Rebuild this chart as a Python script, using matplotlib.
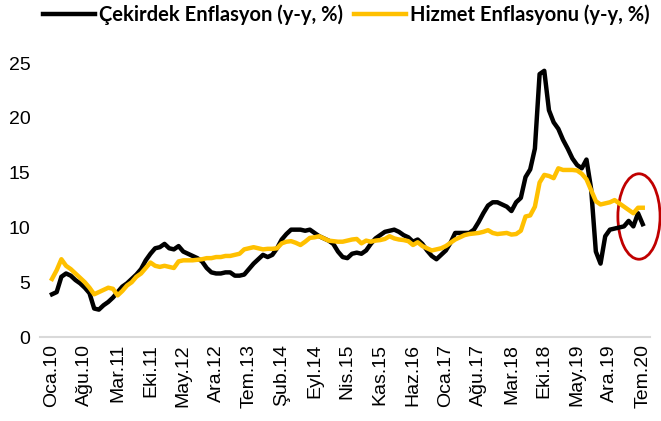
import matplotlib
matplotlib.use("Agg")
import matplotlib.pyplot as plt
from matplotlib.patches import Ellipse
import numpy as np

# monthly, Oca.10 .. Tem.20
core_infl = [
    3.9, 4.1, 5.5, 5.8, 5.6, 5.2, 4.9, 4.5, 4.0, 2.6,
    2.5, 2.9, 3.2, 3.6, 4.1, 4.6, 4.9, 5.3, 5.7, 6.2,
    7.0, 7.6, 8.1, 8.2, 8.5, 8.1, 8.0, 8.3, 7.8, 7.6,
    7.4, 7.2, 6.9, 6.3, 5.9, 5.8, 5.8, 5.9, 5.9, 5.6,
    5.6, 5.7, 6.2, 6.7, 7.1, 7.5, 7.3, 7.5, 8.1, 8.9,
    9.4, 9.8, 9.8, 9.8, 9.7, 9.8, 9.5, 9.2, 9.0, 8.8,
    8.5, 7.8, 7.3, 7.2, 7.6, 7.7, 7.6, 7.9, 8.5, 9.0,
    9.3, 9.6, 9.7, 9.8, 9.6, 9.3, 9.1, 8.7, 8.9, 8.5,
    7.9, 7.4, 7.1, 7.5, 7.9, 8.6, 9.5, 9.5, 9.5, 9.5,
    9.8, 10.5, 11.3, 12.0, 12.3, 12.3, 12.1, 11.9, 11.5, 12.3,
    12.7, 14.6, 15.3, 17.2, 24.0, 24.3, 20.7, 19.6, 19.0, 18.0,
    17.2, 16.3, 15.7, 15.4, 16.2, 13.5, 7.8, 6.7, 9.2, 9.8,
    9.9, 10.0, 10.1, 10.6, 10.1, 11.3, 10.3,
]

service_infl = [
    5.3, 6.1, 7.1, 6.5, 6.2, 5.8, 5.4, 5.0, 4.5, 3.9,
    4.1, 4.3, 4.5, 4.4, 3.8, 4.2, 4.7, 5.0, 5.5, 5.8,
    6.3, 6.8, 6.5, 6.4, 6.5, 6.4, 6.3, 6.9, 7.0, 7.0,
    7.0, 7.05, 7.1, 7.2, 7.2, 7.3, 7.3, 7.4, 7.4, 7.5,
    7.6, 8.0, 8.1, 8.2, 8.1, 8.0, 8.05, 8.05, 8.1, 8.55,
    8.7, 8.75, 8.6, 8.4, 8.7, 9.05, 9.1, 9.2, 9.0, 8.8,
    8.75, 8.7, 8.7, 8.8, 8.9, 8.95, 8.55, 8.8, 8.7, 8.8,
    8.85, 8.95, 9.2, 9.0, 8.9, 8.85, 8.75, 8.4, 8.65, 8.3,
    8.1, 7.9, 8.0, 8.1, 8.3, 8.6, 8.9, 9.1, 9.3, 9.4,
    9.45, 9.5, 9.6, 9.75, 9.5, 9.4, 9.45, 9.5, 9.35, 9.4,
    9.7, 11.0, 11.1, 11.9, 14.1, 14.8, 14.7, 14.5, 15.4, 15.25,
    15.25, 15.25, 15.2, 14.9, 14.4, 13.4, 12.4, 12.1, 12.2, 12.3,
    12.5, 12.2, 11.9, 11.6, 11.3, 11.8, 11.8,
]

months = ["Oca", "Şub", "Mar", "Nis", "May", "Haz",
          "Tem", "Ağu", "Eyl", "Eki", "Kas", "Ara"]
labels = [f"{months[k % 12]}.{10 + k // 12}" for k in range(len(core_infl))]
tick_step = 7

x = np.arange(len(core_infl))

fig = plt.figure(figsize=(6.61, 4.21), dpi=100)
ax = fig.add_axes([0.0605, 0.1995, 0.9225, 0.6505])

ax.plot(x, core_infl, color="black", lw=3.2, solid_joinstyle="round",
        label="Çekirdek Enflasyon (y-y, %)")
ax.plot(x, service_infl, color="#FFC000", lw=3.2, solid_joinstyle="round",
        label="Hizmet Enflasyonu (y-y, %)")

# red circle around the latest months
ax.add_patch(Ellipse((x[-1] - 0.8, 11.0), 9.0, 7.8, fill=False,
                     edgecolor="#C00000", lw=2, clip_on=False))

ax.set_xlim(-2.56, 127.5)
ax.set_ylim(0, 25)
ax.set_yticks([0, 5, 10, 15, 20, 25])
ax.set_xticks(x[::tick_step])
ax.set_xticklabels(labels[::tick_step], rotation=90)

for s in ["top", "right", "left"]:
    ax.spines[s].set_visible(False)
ax.spines["bottom"].set_color("#D9D9D9")
ax.spines["bottom"].set_linewidth(1.5)
ax.tick_params(length=0, labelsize=14, colors="black")
ax.tick_params(axis="y", pad=7)
ax.tick_params(axis="x", pad=5)
for t in ax.get_xticklabels() + ax.get_yticklabels():
    t.set_family("Liberation Sans")

fig.legend(loc="center", bbox_to_anchor=(0.524, 0.964), ncol=2, frameon=False,
           prop={"family": "Lato", "weight": "bold", "size": 14.5},
           handlelength=2.6, handletextpad=0.2, columnspacing=0.55)

fig.savefig("out.png", dpi=100)
